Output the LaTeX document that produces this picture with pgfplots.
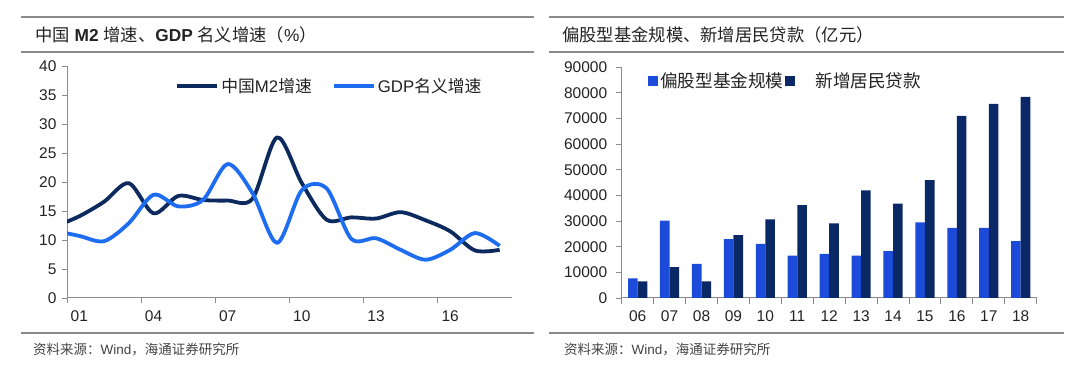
\documentclass[border=0pt]{standalone}
\usepackage{fontspec}
\setmainfont{Liberation Sans}
\newfontfamily\cjk{Noto Sans CJK SC}
\usepackage{pgfplots}
\pgfplotsset{compat=1.18}
\definecolor{navyline}{HTML}{0C2A5E}
\definecolor{brightblue}{HTML}{1E6CF0}
\definecolor{barblue}{HTML}{1C4BD9}
\definecolor{barnavy}{HTML}{0A2865}
\definecolor{rulegray}{HTML}{8A8A8A}
\definecolor{axisgray}{HTML}{8C8C8C}
\definecolor{txt}{HTML}{222222}
\begin{document}
\begin{tikzpicture}[x=1pt,y=1pt]
\useasboundingbox (0pt,0pt) rectangle (1080pt,367pt);
% header and footer rules
\foreach \a/\b in {21/534,549/1064}{
  \draw[rulegray,line width=1.8pt] (\a pt,350pt) -- (\b pt,350pt);
  \draw[rulegray,line width=1.8pt] (\a pt,315pt) -- (\b pt,315pt);
  \draw[rulegray,line width=1.8pt] (\a pt,34pt) -- (\b pt,34pt);
}
\node[anchor=west,inner sep=0pt,text=txt,font=\fontsize{17.3}{18}\selectfont] at (35pt,332pt)
  {{\cjk 中国} \textbf{M2} {\cjk 增速、}\textbf{GDP} {\cjk 名义增速（}\%{\cjk ）}};
\node[anchor=west,inner sep=0pt,text=txt,font=\fontsize{17.3}{18}\selectfont] at (562pt,332pt)
  {{\cjk 偏股型基金规模、新增居民贷款（亿元）}};
\node[anchor=west,inner sep=0pt,text=txt!85,font=\fontsize{13.5}{14}\selectfont] at (33pt,17pt)
  {{\cjk 资料来源：}Wind{\cjk ，海通证券研究所}};
\node[anchor=west,inner sep=0pt,text=txt!85,font=\fontsize{13.5}{14}\selectfont] at (564pt,17pt)
  {{\cjk 资料来源：}Wind{\cjk ，海通证券研究所}};

% left chart
\begin{axis}[
  at={(67pt,69pt)}, anchor=south west,
  width=445pt, height=232pt, scale only axis,
  xmin=0, xmax=18, ymin=0, ymax=40,
  axis lines*=left,
  axis line style={axisgray,line width=1pt},
  tick style={axisgray,line width=0.9pt},
  tick align=outside, major tick length=5pt,
  xtick={0,3,...,15}, xticklabels={01,04,07,10,13,16},
  ytick={0,5,...,40},
  /pgf/number format/assume math mode=true,
  tick label style={text=txt,font=\fontsize{15.5}{16}\selectfont},
  xticklabel style={xshift=12.36pt,yshift=-4pt},
  yticklabel style={xshift=-2pt},
  legend style={at={(0.243,0.914)},anchor=west,draw=none,fill=none,
    legend columns=2,inner sep=0pt,font=\fontsize{16.8}{17}\selectfont,text=txt,
    /tikz/every even column/.append style={column sep=18pt}},
  legend cell align=left,
  legend image code/.code={\draw[#1,line width=4pt] (0pt,0pt) -- (40pt,0pt);},
]
\addplot[navyline,line width=3.8pt,smooth,tension=0.5,line join=round] coordinates {
(-0.5,12.3) (0.5,14.1) (1.5,16.6) (2.5,19.8) (3.5,14.6) (4.5,17.6) (5.5,16.9)
(6.5,16.8) (7.5,17.1) (8.5,27.7) (9.5,19.8) (10.5,13.5) (11.5,13.9) (12.5,13.7)
(13.5,14.8) (14.5,13.4) (15.5,11.5) (16.5,8.2) (17.5,8.3)};
\addlegendentry{{\cjk 中国}M2{\cjk 增速}}
\addplot[brightblue,line width=3.8pt,smooth,tension=0.5,line join=round] coordinates {
(-0.5,11.6) (0.5,10.7) (1.5,9.8) (2.5,12.9) (3.5,17.8) (4.5,15.8) (5.5,16.9)
(6.5,23.1) (7.5,18.1) (8.5,9.5) (9.5,18.6) (10.5,18.9) (11.5,10.2) (12.5,10.3)
(13.5,8.3) (14.5,6.6) (15.5,8.3) (16.5,11.2) (17.5,9.0)};
\addlegendentry{GDP{\cjk 名义增速}}
\end{axis}

% right chart
\begin{axis}[
  at={(621.7pt,69pt)}, anchor=south west,
  width=415pt, height=231pt, scale only axis,
  xmin=-0.5, xmax=12.5, ymin=0, ymax=90000,
  axis lines*=left,
  axis line style={axisgray,line width=1pt},
  tick style={axisgray,line width=0.9pt},
  tick align=outside, major tick length=6pt,
  xtick={-0.5,0.5,...,12.5},
  xticklabels={06,07,08,09,10,11,12,13,14,15,16,17,18,{}},
  ytick={0,10000,...,90000},
  scaled y ticks=false,
  /pgf/number format/.cd,1000 sep={},assume math mode=true,/pgfplots/.cd,
  tick label style={text=txt,font=\fontsize{15.5}{16}\selectfont},
  xticklabel style={xshift=15.96pt,yshift=-3pt},
  yticklabel style={xshift=-5pt},
  ybar, bar width=9.6pt,
  legend style={at={(0.0634,0.939)},anchor=west,draw=none,fill=none,
    legend columns=2,inner sep=0pt,font=\fontsize{17.6}{18}\selectfont,text=txt,
    /tikz/every even column/.append style={column sep=0pt}},
  legend cell align=left,
  legend image code/.code={\fill[#1] (0pt,-5pt) rectangle (10pt,5pt);},
]
\addplot[fill=barblue,draw=none,bar shift=-4.8pt] coordinates {
(0,7600) (1,30100) (2,13300) (3,22900) (4,21100) (5,16500) (6,17200)
(7,16500) (8,18300) (9,29500) (10,27300) (11,27300) (12,22200)};
\addlegendentry{{\cjk 偏股型基金规模}}
\addplot[fill=barnavy,draw=none,bar shift=4.8pt] coordinates {
(0,6500) (1,12000) (2,6500) (3,24500) (4,30600) (5,36200) (6,29100)
(7,41900) (8,36800) (9,45900) (10,71000) (11,75600) (12,78400)};
\addlegendentry{\hspace{18pt}{\cjk 新增居民贷款}}
\end{axis}
\end{tikzpicture}
\end{document}
